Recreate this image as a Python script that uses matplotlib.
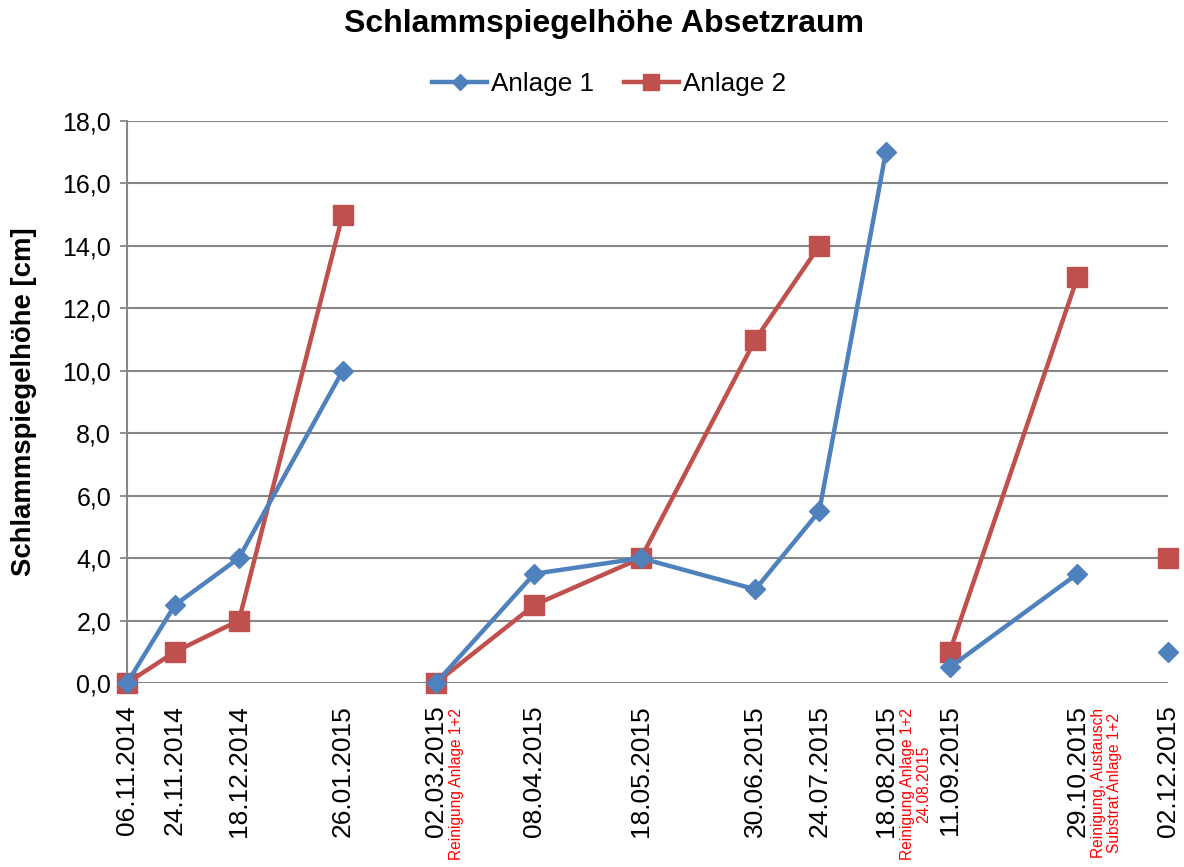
import numpy as np
import pandas as pd
import matplotlib.pyplot as plt

plt.rcParams['font.family'] = ['Liberation Sans', 'DejaVu Sans']

dates = ['06.11.2014', '24.11.2014', '18.12.2014', '26.01.2015', '02.03.2015',
         '08.04.2015', '18.05.2015', '30.06.2015', '24.07.2015', '18.08.2015',
         '11.09.2015', '29.10.2015', '02.12.2015']
anlage1 = [0.0, 2.5, 4.0, 10.0, 0.0, 3.5, 4.0, 3.0, 5.5, 17.0, 0.5, 3.5, 1.0]
anlage2 = [0.0, 1.0, 2.0, 15.0, 0.0, 2.5, 4.0, 11.0, 14.0, np.nan, 1.0, 13.0, 4.0]
# Stellen, an denen die Linie unterbrochen ist (nach Reinigung)
breaks1 = ['02.03.2015', '11.09.2015', '02.12.2015']
breaks2 = ['02.03.2015', '11.09.2015', '02.12.2015']
notes = {'02.03.2015': 'Reinigung Anlage 1+2',
         '18.08.2015': 'Reinigung Anlage 1+2\n24.08.2015',
         '29.10.2015': 'Reinigung, Austausch\nSubstrat Anlage 1+2'}
note_offsets = {'02.03.2015': 21, '18.08.2015': 30, '29.10.2015': 29}

x = pd.to_datetime(dates, format='%d.%m.%Y')

def segments(vals, breaks):
    seg, out = [], []
    for d, v in zip(dates, vals):
        if d in breaks and seg:
            out.append(seg)
            seg = []
        if not np.isnan(v):
            seg.append((pd.to_datetime(d, format='%d.%m.%Y'), v))
    if seg:
        out.append(seg)
    return out

fig = plt.figure(figsize=(11.84, 8.67), dpi=100)
ax = fig.add_axes([0.1073, 0.2122, 0.8792, 0.6482])

blue = '#4F81BD'
red = '#C0504D'

for i, s in enumerate(segments(anlage1, breaks1)):
    xs, ys = zip(*s)
    ax.plot(xs, ys, color=blue, lw=3.2, marker='D', ms=10.3, zorder=3,
            clip_on=False, label='Anlage 1' if i == 0 else None)
for i, s in enumerate(segments(anlage2, breaks2)):
    xs, ys = zip(*s)
    ax.plot(xs, ys, color=red, lw=3.2, marker='s', ms=14, zorder=2,
            clip_on=False, label='Anlage 2' if i == 0 else None)

ax.set_xlim(x[0], x[-1])
ax.set_ylim(0, 18)
yt = np.arange(0, 18.1, 2)
ax.set_yticks(yt)
ax.set_yticklabels([f'{v:.1f}'.replace('.', ',') for v in yt])
ax.set_xticks(x)
ax.set_xticklabels(dates, rotation=90)
ax.tick_params(axis='x', length=0, pad=16, labelsize=19)
ax.tick_params(axis='y', length=5, width=1.3, color='#868686', labelsize=18, pad=6.5)
ax.yaxis.grid(True, color='#868686', lw=1.5)
ax.set_axisbelow(True)
for side in ['top', 'right', 'bottom']:
    ax.spines[side].set_visible(False)
ax.spines['left'].set_color('#868686')
ax.spines['left'].set_linewidth(1.5)

for d, txt in notes.items():
    dx = pd.to_datetime(d, format='%d.%m.%Y')
    ax.annotate(txt, xy=(dx, 0), xycoords=('data', 'axes fraction'),
                xytext=(note_offsets[d], -25), textcoords='offset pixels', rotation=90,
                ha='center', va='top', color='red', fontsize=11.2,
                multialignment='center', linespacing=1.12)

ax.set_ylabel('Schlammspiegelhöhe [cm]', fontsize=19.8, fontweight='bold', labelpad=18)
fig.text(0.51, 0.972, 'Schlammspiegelhöhe Absetzraum', fontsize=23, fontweight='bold',
         ha='center', va='center')
ax.legend(loc='center', bbox_to_anchor=(0.463, 1.066), ncol=2, frameon=False,
          fontsize=18.8, handlelength=2.1, columnspacing=1.15, handletextpad=0.15,
          markerscale=0.8)

fig.savefig('out.png', dpi=100)
